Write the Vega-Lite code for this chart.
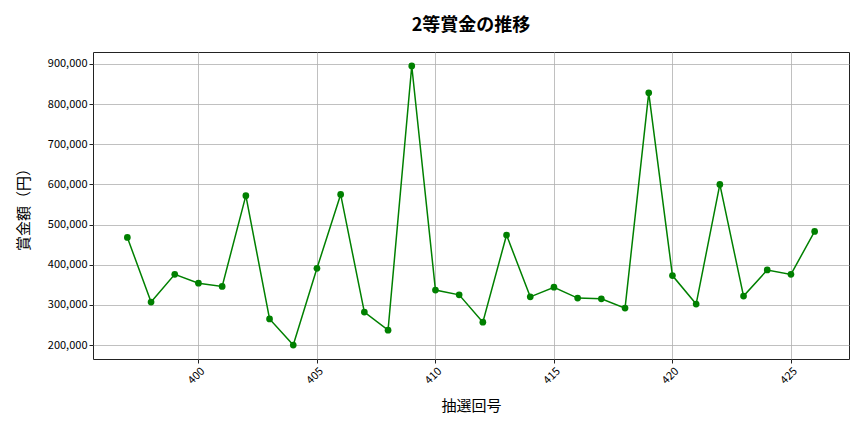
{
  "$schema": "https://vega.github.io/schema/vega-lite/v6.json",
  "width": 756,
  "height": 307,
  "autosize": {"type": "none"},
  "padding": {"left": 93, "top": 52, "right": 15, "bottom": 73},
  "background": "white",
  "config": {
    "font": "Noto Sans CJK JP",
    "view": {"stroke": "#222", "strokeWidth": 1}
  },
  "title": {
    "text": "2等賞金の推移",
    "fontSize": 18,
    "fontWeight": "bold",
    "font": "Noto Sans CJK JP",
    "color": "#000",
    "offset": 17
  },
  "data": {
    "values": [
      {"round": 397, "prize": 468000},
      {"round": 398, "prize": 307000},
      {"round": 399, "prize": 376000},
      {"round": 400, "prize": 354000},
      {"round": 401, "prize": 346000},
      {"round": 402, "prize": 572000},
      {"round": 403, "prize": 265000},
      {"round": 404, "prize": 200000},
      {"round": 405, "prize": 391000},
      {"round": 406, "prize": 575000},
      {"round": 407, "prize": 282000},
      {"round": 408, "prize": 237000},
      {"round": 409, "prize": 895000},
      {"round": 410, "prize": 337000},
      {"round": 411, "prize": 325000},
      {"round": 412, "prize": 257000},
      {"round": 413, "prize": 474000},
      {"round": 414, "prize": 320000},
      {"round": 415, "prize": 344000},
      {"round": 416, "prize": 317000},
      {"round": 417, "prize": 315000},
      {"round": 418, "prize": 292000},
      {"round": 419, "prize": 828000},
      {"round": 420, "prize": 373000},
      {"round": 421, "prize": 302000},
      {"round": 422, "prize": 600000},
      {"round": 423, "prize": 322000},
      {"round": 424, "prize": 387000},
      {"round": 425, "prize": 376000},
      {"round": 426, "prize": 483000}
    ]
  },
  "encoding": {
    "x": {
      "field": "round",
      "type": "quantitative",
      "scale": {"domain": [395.55, 427.45], "nice": false, "zero": false},
      "axis": {
        "title": "抽選回号",
        "titleFontSize": 15,
        "titleFontWeight": "normal",
        "titleColor": "#000",
        "titlePadding": 13,
        "values": [400, 405, 410, 415, 420, 425],
        "labelAngle": -45,
        "labelFontSize": 11,
        "labelColor": "#000",
        "labelAlign": "right",
        "labelBaseline": "top",
        "tickColor": "#222",
        "tickSize": 4,
        "domain": false,
        "grid": true,
        "gridColor": "#b0b0b0",
        "gridWidth": 0.8
      }
    },
    "y": {
      "field": "prize",
      "type": "quantitative",
      "scale": {"domain": [165250, 929750], "nice": false, "zero": false},
      "axis": {
        "title": "賞金額（円）",
        "titleFontSize": 15,
        "titleFontWeight": "normal",
        "titleColor": "#000",
        "titlePadding": 16,
        "values": [200000, 300000, 400000, 500000, 600000, 700000, 800000, 900000],
        "format": ",d",
        "labelFontSize": 11,
        "labelColor": "#000",
        "tickColor": "#222",
        "tickSize": 4,
        "domain": false,
        "grid": true,
        "gridColor": "#b0b0b0",
        "gridWidth": 0.8
      }
    }
  },
  "layer": [
    {"mark": {"type": "line", "color": "#008000", "strokeWidth": 1.5}},
    {"mark": {"type": "point", "filled": true, "color": "#008000", "size": 45, "opacity": 1}}
  ]
}
